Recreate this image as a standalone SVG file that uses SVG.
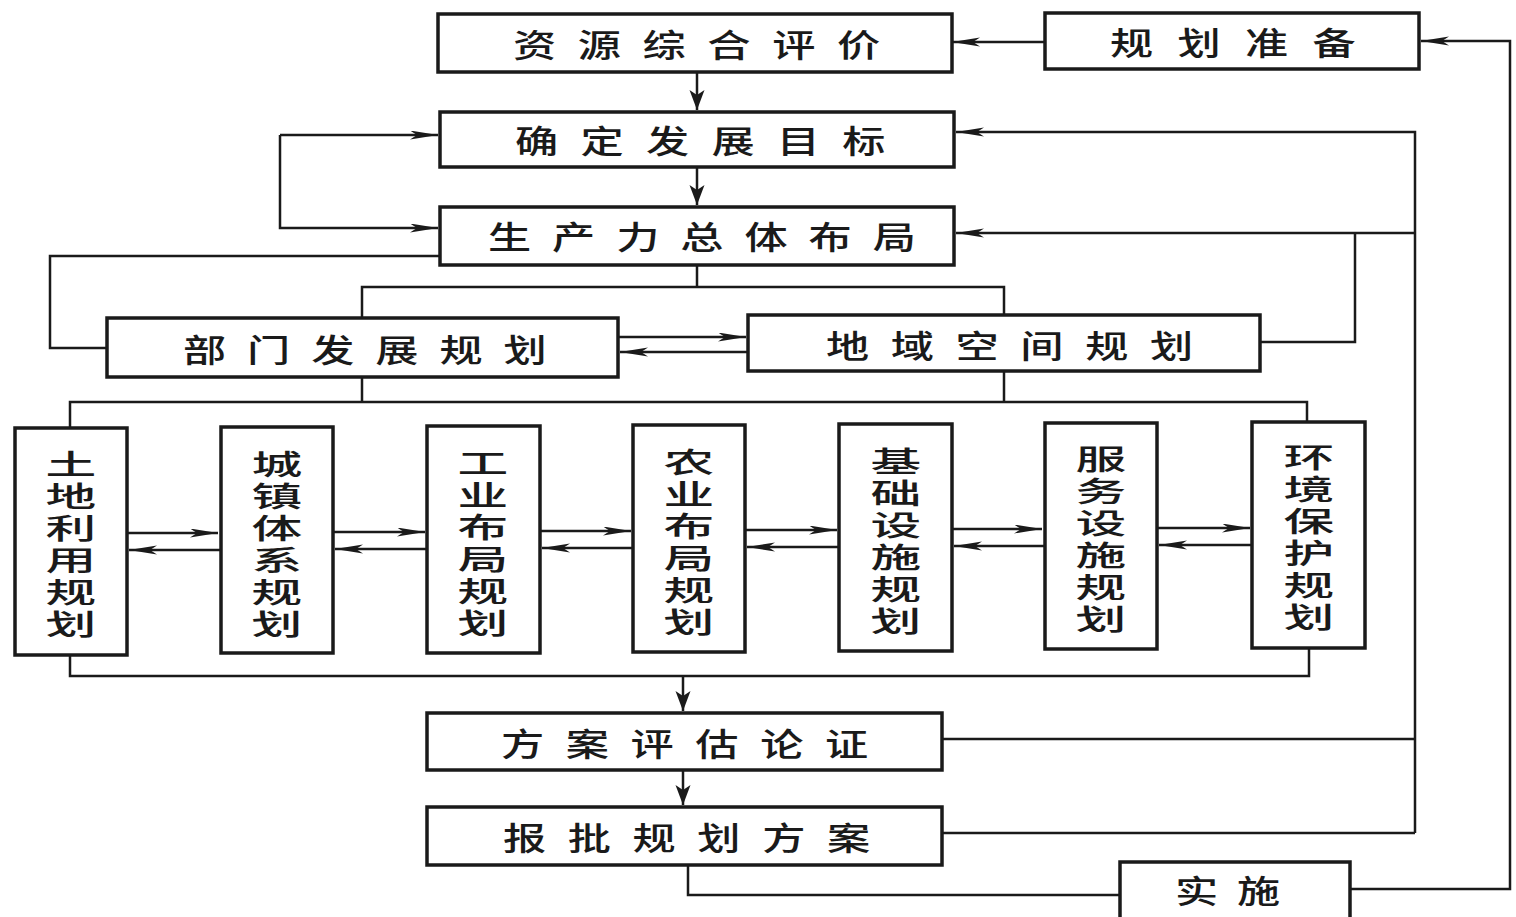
<svg xmlns="http://www.w3.org/2000/svg" width="1516" height="917" viewBox="0 0 1516 917">
<style>
.box{fill:#fff;stroke:#1a1a1a;stroke-width:3.5}
.ln{fill:none;stroke:#1a1a1a;stroke-width:2.5}
.t{font-family:"Noto Sans CJK SC","Noto Sans",sans-serif;font-size:32px;font-weight:500;fill:#1a1a1a;dominant-baseline:central}
.v{font-family:"Noto Sans CJK SC","Noto Sans",sans-serif;font-size:29px;font-weight:500;fill:#1a1a1a;dominant-baseline:central;text-anchor:middle}
</style>
<defs>
<marker id="ah" markerUnits="userSpaceOnUse" markerWidth="30" markerHeight="10" refX="28" refY="4.5" orient="auto"><path d="M0,0 L28,4.5 L0,9 L7,4.5 z" fill="#1a1a1a"/></marker>
<marker id="av" markerUnits="userSpaceOnUse" markerWidth="22" markerHeight="16" refX="20" refY="7.5" orient="auto"><path d="M0,0 L20,7.5 L0,15 L5,7.5 z" fill="#1a1a1a"/></marker>
</defs>
<rect width="1516" height="917" fill="#fff"/>
<g id="connectors">
<path class="ln" d="M1045,42 H952" marker-end="url(#ah)"/>
<path class="ln" d="M697,72 V110" marker-end="url(#av)"/>
<path class="ln" d="M697,167 V205" marker-end="url(#av)"/>
<path class="ln" d="M280,135 H438" marker-end="url(#ah)"/>
<path class="ln" d="M280,135 V228 H438" marker-end="url(#ah)"/>
<path class="ln" d="M1415,833 V132 H956" marker-end="url(#ah)"/>
<path class="ln" d="M1415,233 H956" marker-end="url(#ah)"/>
<path class="ln" d="M1260,342 H1355 V233"/>
<path class="ln" d="M697,265 V287 M362,318 V287 H1004 V315"/>
<path class="ln" d="M440,256 H50 V348 H107"/>
<path class="ln" d="M618,337 H746" marker-end="url(#ah)"/>
<path class="ln" d="M748,352 H620" marker-end="url(#ah)"/>
<path class="ln" d="M362,377 V402 M1004,370 V402 M70,428 V402 H1307 V422"/>
<path class="ln" d="M127,533 H218" marker-end="url(#ah)"/>
<path class="ln" d="M220,550 H129" marker-end="url(#ah)"/>
<path class="ln" d="M333,532 H425" marker-end="url(#ah)"/>
<path class="ln" d="M427,549 H335" marker-end="url(#ah)"/>
<path class="ln" d="M540,531 H631" marker-end="url(#ah)"/>
<path class="ln" d="M633,548 H542" marker-end="url(#ah)"/>
<path class="ln" d="M745,530 H837" marker-end="url(#ah)"/>
<path class="ln" d="M839,547 H747" marker-end="url(#ah)"/>
<path class="ln" d="M952,529 H1042" marker-end="url(#ah)"/>
<path class="ln" d="M1044,546 H954" marker-end="url(#ah)"/>
<path class="ln" d="M1157,528 H1250" marker-end="url(#ah)"/>
<path class="ln" d="M1252,545 H1159" marker-end="url(#ah)"/>
<path class="ln" d="M70,655 V676 H1309 V648"/>
<path class="ln" d="M683,676 V711" marker-end="url(#av)"/>
<path class="ln" d="M683,770 V805" marker-end="url(#av)"/>
<path class="ln" d="M942,739 H1415 M942,833 H1415"/>
<path class="ln" d="M688,865 V895 H1120"/>
<path class="ln" d="M1350,889 H1510 V41 H1421" marker-end="url(#ah)"/>
</g>
<g id="n-ziyuan"><rect class="box" x="438" y="14" width="514" height="58"/><text class="t" transform="translate(513 43) scale(1.35 1)" letter-spacing="16">资源综合评价</text></g>
<g id="n-zhunbei"><rect class="box" x="1045" y="13" width="374" height="56"/><text class="t" transform="translate(1110 41) scale(1.35 1)" letter-spacing="18">规划准备</text></g>
<g id="n-mubiao"><rect class="box" x="440" y="112" width="514" height="55"/><text class="t" transform="translate(515 139) scale(1.35 1)" letter-spacing="16.5">确定发展目标</text></g>
<g id="n-buju"><rect class="box" x="440" y="207" width="514" height="58"/><text class="t" transform="translate(488 235) scale(1.35 1)" letter-spacing="15.5">生产力总体布局</text></g>
<g id="n-bumen"><rect class="box" x="107" y="318" width="511" height="59"/><text class="t" transform="translate(183 348) scale(1.35 1)" letter-spacing="15.5">部门发展规划</text></g>
<g id="n-diyu"><rect class="box" x="748" y="315" width="512" height="56"/><text class="t" transform="translate(826 344) scale(1.35 1)" letter-spacing="16">地域空间规划</text></g>
<g id="n-tudi"><rect class="box" x="15" y="428" width="112" height="227"/><text class="v" transform="translate(71 0) scale(1.75 1)"><tspan x="0" y="462">土</tspan><tspan x="0" y="494">地</tspan><tspan x="0" y="526">利</tspan><tspan x="0" y="558">用</tspan><tspan x="0" y="590">规</tspan><tspan x="0" y="622">划</tspan></text></g>
<g id="n-chengzhen"><rect class="box" x="221" y="427" width="112" height="226"/><text class="v" transform="translate(277 0) scale(1.75 1)"><tspan x="0" y="462">城</tspan><tspan x="0" y="494">镇</tspan><tspan x="0" y="526">体</tspan><tspan x="0" y="558">系</tspan><tspan x="0" y="590">规</tspan><tspan x="0" y="622">划</tspan></text></g>
<g id="n-gongye"><rect class="box" x="427" y="426" width="113" height="227"/><text class="v" transform="translate(483 0) scale(1.75 1)"><tspan x="0" y="461">工</tspan><tspan x="0" y="493">业</tspan><tspan x="0" y="525">布</tspan><tspan x="0" y="557">局</tspan><tspan x="0" y="589">规</tspan><tspan x="0" y="621">划</tspan></text></g>
<g id="n-nongye"><rect class="box" x="633" y="425" width="112" height="227"/><text class="v" transform="translate(689 0) scale(1.75 1)"><tspan x="0" y="460">农</tspan><tspan x="0" y="492">业</tspan><tspan x="0" y="524">布</tspan><tspan x="0" y="556">局</tspan><tspan x="0" y="588">规</tspan><tspan x="0" y="620">划</tspan></text></g>
<g id="n-jichu"><rect class="box" x="839" y="424" width="113" height="227"/><text class="v" transform="translate(896 0) scale(1.75 1)"><tspan x="0" y="459">基</tspan><tspan x="0" y="491">础</tspan><tspan x="0" y="523">设</tspan><tspan x="0" y="555">施</tspan><tspan x="0" y="587">规</tspan><tspan x="0" y="619">划</tspan></text></g>
<g id="n-fuwu"><rect class="box" x="1045" y="423" width="112" height="226"/><text class="v" transform="translate(1101 0) scale(1.75 1)"><tspan x="0" y="457">服</tspan><tspan x="0" y="489">务</tspan><tspan x="0" y="521">设</tspan><tspan x="0" y="553">施</tspan><tspan x="0" y="585">规</tspan><tspan x="0" y="617">划</tspan></text></g>
<g id="n-huanjing"><rect class="box" x="1252" y="422" width="113" height="226"/><text class="v" transform="translate(1309 0) scale(1.75 1)"><tspan x="0" y="455">环</tspan><tspan x="0" y="487">境</tspan><tspan x="0" y="519">保</tspan><tspan x="0" y="551">护</tspan><tspan x="0" y="583">规</tspan><tspan x="0" y="615">划</tspan></text></g>
<g id="n-pinggu"><rect class="box" x="427" y="713" width="515" height="57"/><text class="t" transform="translate(501 742) scale(1.35 1)" letter-spacing="16">方案评估论证</text></g>
<g id="n-baopi"><rect class="box" x="427" y="807" width="515" height="58"/><text class="t" transform="translate(503 836) scale(1.35 1)" letter-spacing="16">报批规划方案</text></g>
<g id="n-shishi"><rect class="box" x="1120" y="862" width="230" height="70"/><text class="t" transform="translate(1175 889) scale(1.35 1)" letter-spacing="14">实施</text></g>
</svg>
